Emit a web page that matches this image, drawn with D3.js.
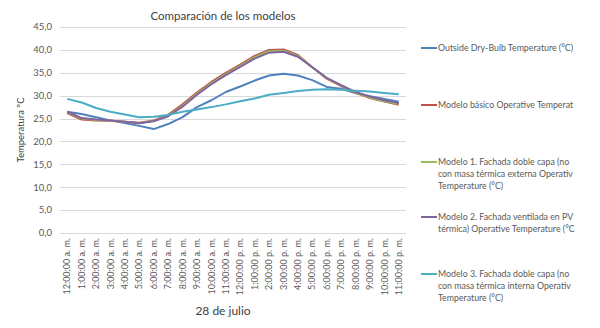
<!DOCTYPE html>
<html>
<head>
<meta charset="utf-8">
<script src="https://cdn.jsdelivr.net/npm/d3@7"></script>
<style>
  body { margin: 0; background: #fff; }
  svg { font-family: Lato, "Open Sans", sans-serif; }
</style>
</head>
<body>
<div id="chart"></div>
<script>
const hours = ['12:00:00 a. m.', '1:00:00 a. m.', '2:00:00 a. m.', '3:00:00 a. m.', '4:00:00 a. m.',
  '5:00:00 a. m.', '6:00:00 a. m.', '7:00:00 a. m.', '8:00:00 a. m.', '9:00:00 a. m.',
  '10:00:00 a. m.', '11:00:00 a. m.', '12:00:00 p. m.', '1:00:00 p. m.', '2:00:00 p. m.',
  '3:00:00 p. m.', '4:00:00 p. m.', '5:00:00 p. m.', '6:00:00 p. m.', '7:00:00 p. m.',
  '8:00:00 p. m.', '9:00:00 p. m.', '10:00:00 p. m.', '11:00:00 p. m.'];

const outside = [26.5, 26.0, 25.3, 24.6, 24.0, 23.4, 22.7, 23.8, 25.3, 27.5, 29.0, 30.8,
  32.0, 33.3, 34.4, 34.8, 34.4, 33.4, 31.9, 31.5, 30.6, 29.9, 29.3, 28.7];
const basico = [26.2, 24.8, 24.6, 24.5, 24.3, 24.1, 24.6, 25.8, 28.1, 30.7, 33.0, 35.0,
  36.8, 38.7, 40.0, 40.1, 38.9, 36.2, 33.7, 32.1, 30.6, 29.5, 28.7, 28.0];
const modelo1 = [26.4, 25.0, 24.7, 24.5, 24.3, 24.0, 24.5, 25.6, 27.8, 30.4, 32.7, 34.7,
  36.5, 38.4, 39.7, 39.8, 38.7, 36.2, 33.8, 32.2, 30.7, 29.6, 28.8, 28.2];
const modelo2 = [26.5, 25.1, 24.8, 24.6, 24.3, 24.0, 24.4, 25.5, 27.6, 30.2, 32.5, 34.5,
  36.3, 38.1, 39.4, 39.6, 38.5, 36.2, 33.9, 32.3, 30.8, 29.8, 29.0, 28.4];
const modelo3 = [29.3, 28.5, 27.3, 26.5, 25.9, 25.3, 25.4, 25.8, 26.5, 27.0, 27.5, 28.1,
  28.8, 29.4, 30.2, 30.6, 31.0, 31.3, 31.4, 31.3, 31.1, 30.9, 30.6, 30.3];

const yTicks = [0, 5, 10, 15, 20, 25, 30, 35, 40, 45];

// legend text as far as it is visible in the original (cut at the chart edge)
const SERIES = [
  { lines: ['Outside Dry-Bulb Temperature (°C)'], values: outside, color: '#4f81bd' },
  { lines: ['Modelo básico Operative Temperat'], values: basico, color: '#c0504d' },
  { lines: ['Modelo 1. Fachada doble capa (no', 'con masa térmica externa  Operativ', 'Temperature (°C)'], values: modelo1, color: '#9bbb59' },
  { lines: ['Modelo 2. Fachada ventilada en PV', 'térmica) Operative Temperature (°C'], values: modelo2, color: '#8064a2' },
  { lines: ['Modelo 3. Fachada doble capa (no', 'con masa térmica interna  Operativ', 'Temperature (°C)'], values: modelo3, color: '#4bacc6' }
];

const W = 600, H = 328;
const margin = { top: 27, right: 194, bottom: 95, left: 60 };

const svg = d3.select('#chart').append('svg')
  .attr('width', W)
  .attr('height', H);

const x = d3.scaleBand().domain(hours).range([margin.left, W - margin.right]);
const y = d3.scaleLinear().domain([0, 45]).range([H - margin.bottom, margin.top]);

// gridlines
svg.append('g')
  .selectAll('line')
  .data(yTicks)
  .join('line')
  .attr('x1', margin.left)
  .attr('x2', W - margin.right)
  .attr('y1', function(d) { return Math.round(y(d)) + 0.5; })
  .attr('y2', function(d) { return Math.round(y(d)) + 0.5; })
  .attr('stroke', '#d9d9d9')
  .attr('stroke-width', 1);

// y axis labels
svg.append('g')
  .selectAll('text')
  .data(yTicks)
  .join('text')
  .attr('x', 52)
  .attr('y', function(d) { return y(d); })
  .attr('dy', '0.35em')
  .attr('text-anchor', 'end')
  .attr('font-size', 9.5)
  .attr('fill', '#595959')
  .text(function(d) { return d3.format('.1f')(d).replace('.', ','); });

// x axis labels
svg.append('g')
  .selectAll('text')
  .data(hours)
  .join('text')
  .attr('transform', function(d) {
    return 'translate(' + (x(d) + x.bandwidth() / 2) + ',' + (y(0) + 5) + ') rotate(-90)';
  })
  .attr('dy', '0.35em')
  .attr('text-anchor', 'end')
  .attr('font-size', 9)
  .attr('fill', '#595959')
  .text(function(d) { return d; });

// series lines
const line = d3.line()
  .x(function(d, i) { return x(hours[i]) + x.bandwidth() / 2; })
  .y(function(d) { return y(d); });

svg.append('g')
  .selectAll('path')
  .data(SERIES)
  .join('path')
  .attr('d', function(s) { return line(s.values); })
  .attr('fill', 'none')
  .attr('stroke', function(s) { return s.color; })
  .attr('stroke-width', 2)
  .attr('stroke-linejoin', 'round');

// titles
svg.append('text')
  .attr('x', 223)
  .attr('y', 20)
  .attr('text-anchor', 'middle')
  .attr('font-size', 11.5)
  .attr('fill', '#404040')
  .text('Comparación de los modelos');

svg.append('text')
  .attr('transform', 'translate(24,' + ((y(0) + y(45)) / 2) + ') rotate(-90)')
  .attr('text-anchor', 'middle')
  .attr('font-size', 9.5)
  .attr('fill', '#404040')
  .text('Temperatura ºC');

svg.append('text')
  .attr('x', 223)
  .attr('y', 315)
  .attr('text-anchor', 'middle')
  .attr('font-size', 12)
  .attr('fill', '#404040')
  .text('28 de julio');

// legend
const legendY = [48, 105, 162, 217, 274];
const legend = svg.append('g')
  .selectAll('g')
  .data(SERIES)
  .join('g')
  .attr('transform', function(s, i) { return 'translate(0,' + legendY[i] + ')'; });

legend.append('line')
  .attr('x1', 421).attr('x2', 437)
  .attr('stroke', function(s) { return s.color; })
  .attr('stroke-width', 2);

legend.each(function(s) {
  d3.select(this).selectAll('text')
    .data(s.lines)
    .join('text')
    .attr('x', 438)
    .attr('y', function(d, j) { return j * 12; })
    .attr('dy', '0.35em')
    .attr('font-size', 8.8)
    .attr('fill', '#595959')
    .text(function(d) { return d; });
});
</script>
</body>
</html>
